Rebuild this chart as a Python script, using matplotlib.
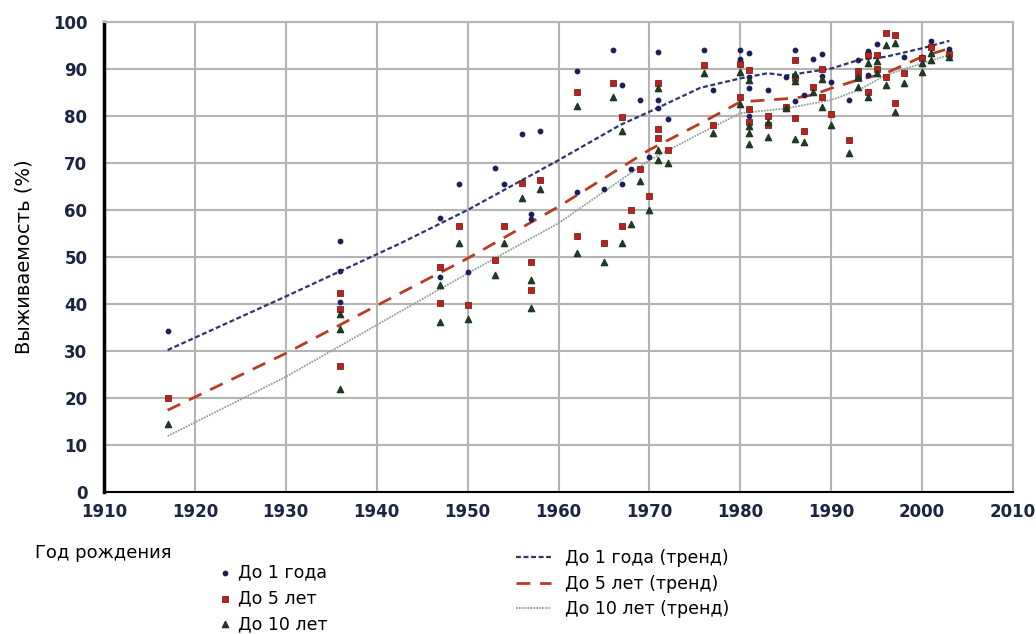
import matplotlib
matplotlib.use('Agg')
import matplotlib.pyplot as plt

plt.rcParams['font.family'] = ['DejaVu Sans']

# scatter points: year, survival %
y1_years = [1917, 1936, 1936, 1936, 1947, 1947, 1949, 1950, 1953, 1954, 1956, 1957, 1957, 1958,
            1962, 1962, 1965, 1966, 1967, 1967, 1968, 1969, 1970, 1971, 1971, 1971, 1972, 1976, 1977,
            1980, 1980, 1981, 1981, 1981, 1981, 1983, 1985, 1986, 1986, 1987, 1988, 1989, 1989, 1990,
            1992, 1993, 1994, 1994, 1995, 1998, 2000, 2001, 2003]
y1_vals = [34.3, 53.4, 47.0, 40.4, 58.2, 45.8, 65.5, 46.9, 69.0, 65.5, 76.2, 59.1, 58.0, 76.9,
           89.5, 63.9, 64.5, 94.0, 86.6, 65.5, 68.7, 83.4, 71.2, 93.7, 83.5, 81.6, 79.3, 94.0, 85.5,
           94.0, 92.1, 93.5, 88.4, 85.9, 79.9, 85.5, 88.4, 94.0, 83.2, 84.5, 92.1, 93.1, 88.5, 87.2,
           83.4, 91.9, 93.9, 88.7, 95.4, 92.6, 92.6, 96.0, 94.2]

y5_years = [1917, 1936, 1936, 1936, 1947, 1947, 1949, 1950, 1953, 1954, 1956, 1957, 1957, 1958,
            1962, 1962, 1965, 1966, 1967, 1967, 1968, 1969, 1970, 1971, 1971, 1971, 1972, 1976, 1977,
            1980, 1980, 1981, 1981, 1981, 1983, 1983, 1985, 1986, 1986, 1986, 1987, 1988, 1989, 1989,
            1990, 1992, 1993, 1993, 1994, 1994, 1995, 1995, 1996, 1996, 1997, 1997, 1998, 2000, 2001, 2003]
y5_vals = [20.1, 42.3, 38.9, 26.9, 47.9, 40.3, 56.5, 39.7, 49.4, 56.5, 65.7, 48.9, 43.0, 66.4,
           85.0, 54.5, 52.9, 87.0, 79.7, 56.5, 60.1, 68.8, 63.0, 87.1, 77.2, 75.4, 72.8, 90.9, 78.1,
           91.1, 84.0, 89.8, 81.4, 78.8, 80.0, 78.1, 82.0, 91.9, 88.0, 79.5, 76.9, 86.1, 89.9, 84.0,
           80.4, 74.9, 89.6, 88.0, 93.0, 85.0, 93.0, 89.9, 97.6, 88.4, 97.2, 82.8, 89.1, 92.3, 94.6, 93.2]

y10_years = [1917, 1936, 1936, 1936, 1947, 1947, 1949, 1950, 1953, 1954, 1956, 1957, 1957, 1958,
             1962, 1962, 1965, 1966, 1967, 1967, 1968, 1969, 1970, 1971, 1971, 1971, 1972, 1976, 1977,
             1980, 1980, 1981, 1981, 1981, 1981, 1983, 1983, 1985, 1986, 1986, 1986, 1987, 1988, 1989, 1989,
             1990, 1992, 1993, 1993, 1994, 1994, 1995, 1995, 1996, 1996, 1997, 1997, 1998, 2000, 2000,
             2001, 2001, 2003]
y10_vals = [14.5, 37.9, 34.7, 21.9, 44.0, 36.1, 53.0, 36.7, 46.2, 53.0, 62.5, 45.0, 39.1, 64.5,
            82.1, 50.9, 48.9, 84.0, 76.9, 53.0, 57.0, 66.2, 60.0, 86.0, 72.8, 70.6, 70.1, 89.1, 76.4,
            89.4, 82.5, 87.7, 77.9, 76.4, 74.0, 78.8, 75.6, 81.8, 88.9, 87.5, 75.0, 74.5, 85.0, 87.8, 82.0,
            78.1, 72.2, 88.4, 86.1, 91.3, 84.0, 91.6, 89.1, 95.1, 86.6, 95.6, 80.9, 87.1, 91.2, 89.4,
            93.3, 91.9, 92.6]

# trend curves
t1_years = [1917, 1930, 1942.6, 1950, 1960, 1966.8, 1970, 1975.6, 1980, 1983, 1985, 1990, 1993, 1996, 2000, 2003]
t1_vals = [30.2, 41.6, 52.9, 60.0, 70.6, 78.1, 80.9, 86.0, 88.0, 89.1, 88.6, 90.1, 91.9, 92.6, 94.4, 96.0]
t5_years = [1917, 1930, 1942.6, 1950, 1960, 1970, 1975.6, 1980, 1983, 1986, 1988, 1990, 1993, 1996, 2000, 2003]
t5_vals = [17.4, 29.5, 42.3, 49.7, 60.7, 72.8, 78.4, 83.0, 83.4, 83.8, 84.5, 85.9, 87.7, 89.1, 92.6, 94.4]
t10_years = [1917, 1930, 1942.6, 1950, 1960, 1970, 1975.6, 1980, 1985, 1990, 1993, 1996, 2000, 2003]
t10_vals = [11.9, 24.5, 38.4, 46.5, 57.2, 70.6, 76.3, 80.6, 81.6, 83.4, 85.5, 88.7, 91.2, 93.0]

fig = plt.figure(figsize=(10.36, 6.34), dpi=100)
ax = fig.add_axes([0.1004, 0.224, 0.8774, 0.7413])

l1, = ax.plot(t1_years, t1_vals, color='#2e3470', lw=1.6, ls=(0, (2.2, 1.2)), label='До 1 года (тренд)')
l5, = ax.plot(t5_years, t5_vals, color='#bb3a22', lw=2.0, ls=(0, (5, 3.5)), label='До 5 лет (тренд)')
l10, = ax.plot(t10_years, t10_vals, color='#8fa393', lw=1.3, ls=(0, (1, 0.6)), label='До 10 лет (тренд)')

s1 = ax.scatter(y1_years, y1_vals, s=10, marker='o', color='#1c1f5c', zorder=3, label='До 1 года')
s5 = ax.scatter(y5_years, y5_vals, s=22, marker='s', color='#c0201a', edgecolors='#5a1010',
                linewidths=0.5, zorder=3, label='До 5 лет')
s10 = ax.scatter(y10_years, y10_vals, s=20, marker='^', color='#1e3a22', zorder=3, label='До 10 лет')

ax.set_xlim(1910, 2010)
ax.set_ylim(0, 100)
ax.set_xticks(range(1910, 2011, 10))
ax.set_yticks(range(0, 101, 10))
ax.grid(True, color='#b4b4b4', lw=1.5)
ax.set_axisbelow(True)
for sp in ['top', 'right']:
    ax.spines[sp].set_color('#b4b4b4')
    ax.spines[sp].set_linewidth(1.5)
ax.spines['left'].set_linewidth(2.5)
ax.spines['bottom'].set_linewidth(1.5)
ax.tick_params(axis='y', length=0, pad=12, labelsize=12, labelcolor='#1b2440')
ax.tick_params(axis='x', length=0, pad=8, labelsize=12, labelcolor='#1b2440')
for lab in ax.get_xticklabels() + ax.get_yticklabels():
    lab.set_fontweight('bold')
ax.set_ylabel('Выживаемость (%)', fontsize=14, labelpad=14)

fig.text(0.034, 0.128, 'Год рождения', fontsize=13, va='center')
fig.legend(handles=[s1, s5, s10], loc='upper left', bbox_to_anchor=(0.2, 0.125), frameon=False,
           fontsize=12.5, handletextpad=0.3, labelspacing=0.45, borderpad=0, handlelength=1.0)
fig.legend(handles=[l1, l5, l10], loc='upper left', bbox_to_anchor=(0.49, 0.148), frameon=False,
           fontsize=12.5, handletextpad=0.8, labelspacing=0.45, borderpad=0, handlelength=2.0)

fig.savefig('out.png', dpi=100)
